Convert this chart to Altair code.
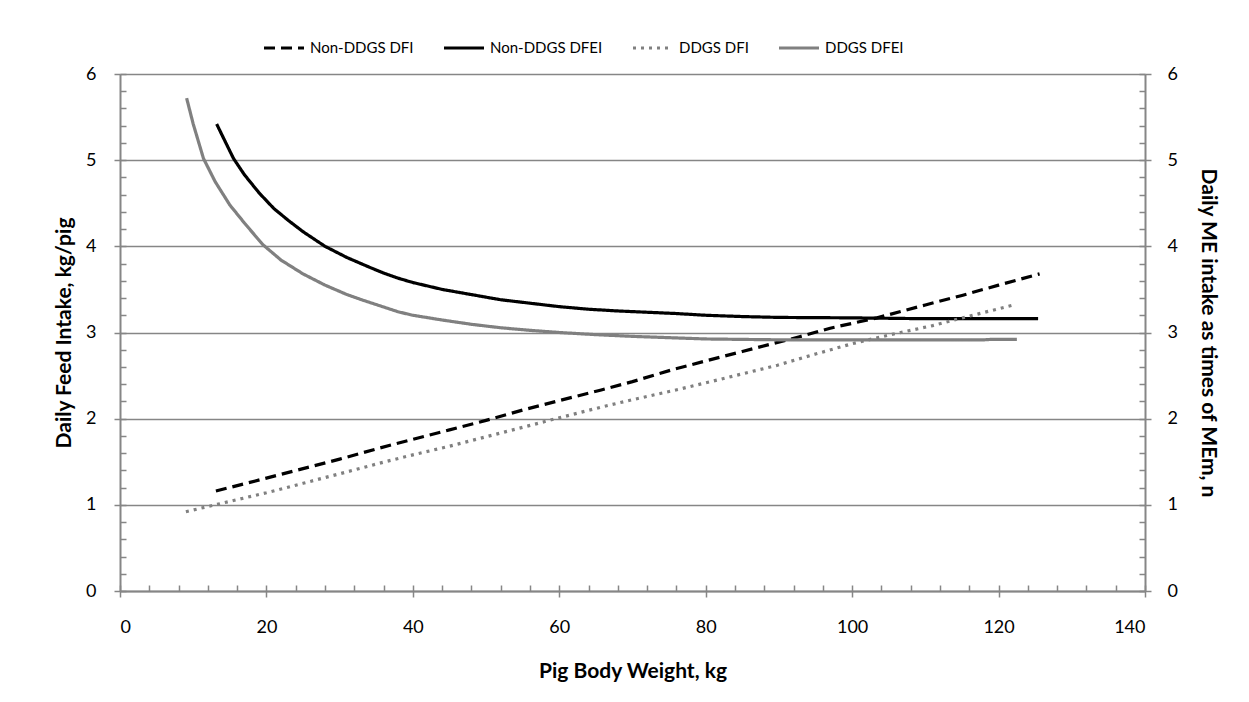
import altair as alt
import pandas as pd

# ---------------- data ----------------
series_order = ["Non-DDGS DFI", "Non-DDGS DFEI", "DDGS DFI", "DDGS DFEI"]

nonddgs_dfi_bw = [13.1, 20, 25, 30, 35.5, 40, 45, 50, 55, 60, 65.6, 70, 75.5, 80, 85, 92.8, 97, 103.4, 110, 115, 120, 125.6]
nonddgs_dfi_val = [1.16, 1.31, 1.42, 1.53, 1.66, 1.76, 1.87, 1.98, 2.10, 2.21, 2.33, 2.43, 2.57, 2.67, 2.78, 2.95, 3.05, 3.17, 3.32, 3.43, 3.55, 3.68]

nonddgs_dfei_bw = [13.2, 14, 15.5, 17, 19, 21, 23, 25, 28, 31, 34, 36, 38, 40, 44, 48, 52, 56, 60, 64, 68, 72, 76, 80, 85, 90, 100, 110, 125.4]
nonddgs_dfei_val = [5.42, 5.28, 5.02, 4.83, 4.62, 4.44, 4.30, 4.17, 4.00, 3.87, 3.76, 3.69, 3.63, 3.58, 3.50, 3.44, 3.38, 3.34, 3.30, 3.27, 3.25, 3.235, 3.22, 3.20, 3.185, 3.175, 3.17, 3.16, 3.16]

ddgs_dfi_bw = [9.0, 15, 20, 25, 30, 36.2, 40, 45, 50, 55, 60, 66, 70, 76.3, 80.7, 85, 89.8, 95, 100, 105, 111, 116, 122.1]
ddgs_dfi_val = [0.92, 1.04, 1.14, 1.25, 1.36, 1.50, 1.58, 1.68, 1.79, 1.90, 2.01, 2.14, 2.22, 2.34, 2.43, 2.52, 2.62, 2.75, 2.87, 2.97, 3.08, 3.19, 3.32]

ddgs_dfei_bw = [9.1, 10, 11.4, 13, 15, 17, 19.5, 22, 25, 28, 31, 33, 35.5, 38, 40, 44, 48, 52, 56, 60, 65, 70, 75, 80, 90, 100, 110, 118, 119, 122.5]
ddgs_dfei_val = [5.72, 5.42, 5.02, 4.75, 4.48, 4.27, 4.02, 3.84, 3.68, 3.55, 3.44, 3.38, 3.31, 3.24, 3.20, 3.145, 3.095, 3.055, 3.025, 3.00, 2.975, 2.955, 2.94, 2.925, 2.915, 2.915, 2.915, 2.915, 2.92, 2.92]

x_major = [0, 20, 40, 60, 80, 100, 120, 140]
x_minor = list(range(0, 141, 4))
y_major = [0, 1, 2, 3, 4, 5, 6]
y_minor = [round(i * 0.2, 1) for i in range(31)]

series_colors = ["#000000", "#000000", "#808080", "#808080"]
series_dashes = [[11, 6], [1, 0], [3, 5], [1, 0]]

rows = []
for name, xs, ys in [
    ("Non-DDGS DFI", nonddgs_dfi_bw, nonddgs_dfi_val),
    ("Non-DDGS DFEI", nonddgs_dfei_bw, nonddgs_dfei_val),
    ("DDGS DFI", ddgs_dfi_bw, ddgs_dfi_val),
    ("DDGS DFEI", ddgs_dfei_bw, ddgs_dfei_val),
]:
    for i, (xv, yv) in enumerate(zip(xs, ys)):
        rows.append({"series": name, "bw": xv, "val": yv, "ord": i})
df = pd.DataFrame(rows)

FONT = "Lato"
AX = "#868686"
TITLE_SIZE = 21

x_scale = alt.Scale(domain=[0, 140], nice=False, zero=True)
y_scale = alt.Scale(domain=[0, 6], nice=False, zero=True)

base = alt.Chart(df)

leg = alt.Legend(
    title=None, orient="none", legendX=142, legendY=-48, direction="horizontal",
    symbolType="stroke", symbolSize=1600, symbolStrokeWidth=3.2,
    labelFont=FONT, labelFontSize=15, labelColor="#000000", labelOffset=4,
    columnPadding=23,
)

lines = base.mark_line(strokeWidth=3.2).encode(
    x=alt.X("bw:Q", scale=x_scale, axis=alt.Axis(
        orient="bottom", values=x_major, title="Pig Body Weight, kg", grid=False,
        tickSize=6, tickColor=AX, tickWidth=1.5, domainColor=AX, domainWidth=2,
        labelFont=FONT, labelFontSize=18, labelColor="#000000", labelPadding=21,
        titleFont=FONT, titleFontSize=TITLE_SIZE, titleFontWeight="bold", titleColor="#000000",
        titlePadding=24)),
    y=alt.Y("val:Q", scale=y_scale, axis=alt.Axis(
        orient="left", values=y_major, title="Daily Feed Intake, kg/pig", grid=True,
        gridColor=AX, gridWidth=1.5, tickSize=6, tickColor=AX, tickWidth=1.5,
        domainColor=AX, domainWidth=2,
        labelFont=FONT, labelFontSize=18, labelColor="#000000", labelPadding=18,
        titleFont=FONT, titleFontSize=TITLE_SIZE, titleFontWeight="bold", titleColor="#000000",
        titlePadding=11)),
    color=alt.Color("series:N", scale=alt.Scale(domain=series_order, range=series_colors), legend=leg),
    strokeDash=alt.StrokeDash("series:N", scale=alt.Scale(domain=series_order, range=series_dashes), legend=leg),
    order="ord:Q",
)

right_axis = base.mark_line(opacity=0).encode(
    x=alt.X("bw:Q", scale=x_scale, axis=None),
    y=alt.Y("val:Q", scale=y_scale, axis=alt.Axis(
        orient="right", values=y_major, title="Daily ME intake as times of MEm, n", grid=False,
        tickSize=6, tickColor=AX, tickWidth=1.5, domainColor=AX, domainWidth=2,
        labelFont=FONT, labelFontSize=18, labelColor="#000000", labelPadding=16,
        titleFont=FONT, titleFontSize=TITLE_SIZE, titleFontWeight="bold", titleColor="#000000",
        titlePadding=20)),
    detail="series:N",
)

minor_left = base.mark_line(opacity=0).encode(
    x=alt.X("bw:Q", scale=x_scale, axis=None),
    y=alt.Y("val:Q", scale=y_scale, axis=alt.Axis(
        orient="left", offset=-6, values=y_minor, labels=False, domain=False, grid=False,
        tickSize=6, tickColor=AX, tickWidth=1.5, title=None)),
    detail="series:N",
)

minor_right = base.mark_line(opacity=0).encode(
    x=alt.X("bw:Q", scale=x_scale, axis=None),
    y=alt.Y("val:Q", scale=y_scale, axis=alt.Axis(
        orient="right", offset=-6, values=y_minor, labels=False, domain=False, grid=False,
        tickSize=6, tickColor=AX, tickWidth=1.5, title=None)),
    detail="series:N",
)

minor_x = base.mark_line(opacity=0).encode(
    x=alt.X("bw:Q", scale=x_scale, axis=alt.Axis(
        orient="bottom", offset=-6, values=x_minor, labels=False, domain=False, grid=False,
        tickSize=6, tickColor=AX, tickWidth=1.5, title=None)),
    y=alt.Y("val:Q", scale=y_scale, axis=None),
    detail="series:N",
)

chart = alt.layer(lines, right_axis, minor_left, minor_right, minor_x).resolve_axis(
    x="independent", y="independent"
).properties(
    width=1025, height=517,
    autosize=alt.AutoSizeParams(type="none"),
    padding={"left": 112, "top": 66, "right": 96, "bottom": 103},
).configure_view(stroke=None).configure(background="white")

chart.save("out.html", embed_options={"renderer": "svg", "actions": False})
